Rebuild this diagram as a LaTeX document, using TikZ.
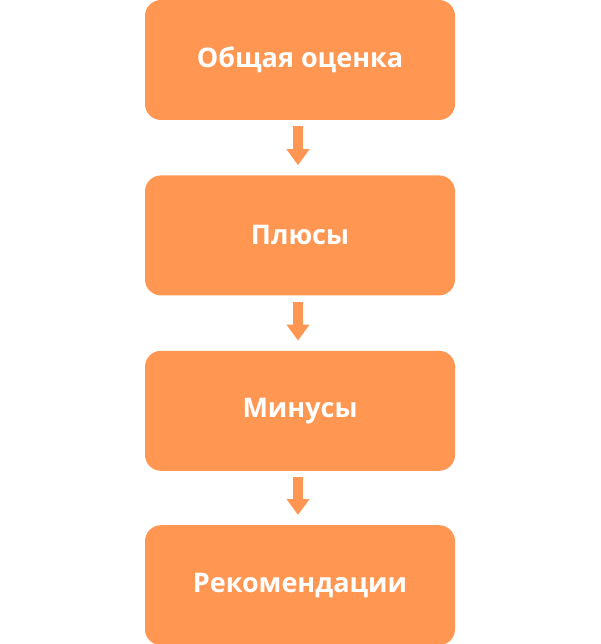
\documentclass[tikz,border=0pt]{standalone}
\usepackage{fontspec}
\setmainfont{Open Sans}
\usetikzlibrary{positioning,arrows.meta}
\definecolor{boxorange}{HTML}{FF9753}

\begin{document}
\begin{tikzpicture}[x=1pt,y=1pt,
  stage/.style={rectangle, rounded corners=16pt, fill=boxorange, minimum width=310pt,
    minimum height=120pt, text=white, font=\bfseries\fontsize{27}{32}\selectfont},
  link/.style={draw=boxorange, line width=10pt, shorten <=6pt, shorten >=10pt,
    -{Triangle[width=22pt,length=16pt]}}]
  \useasboundingbox (0,0) rectangle (600,-644);

  % Stages
  \node[stage] (general) at (300,-60) {Общая оценка};
  \node[stage, below=55pt of general] (pros) {Плюсы};
  \node[stage, below=55pt of pros] (cons) {Минусы};
  \node[stage, below=54pt of cons] (advice) {Рекомендации};

  % Links
  \draw[link] (general.south -| 298,0) -- (pros.north -| 298,0);
  \draw[link] (pros.south -| 298,0) -- (cons.north -| 298,0);
  \draw[link] (cons.south -| 298,0) -- (advice.north -| 298,0);
\end{tikzpicture}
\end{document}
